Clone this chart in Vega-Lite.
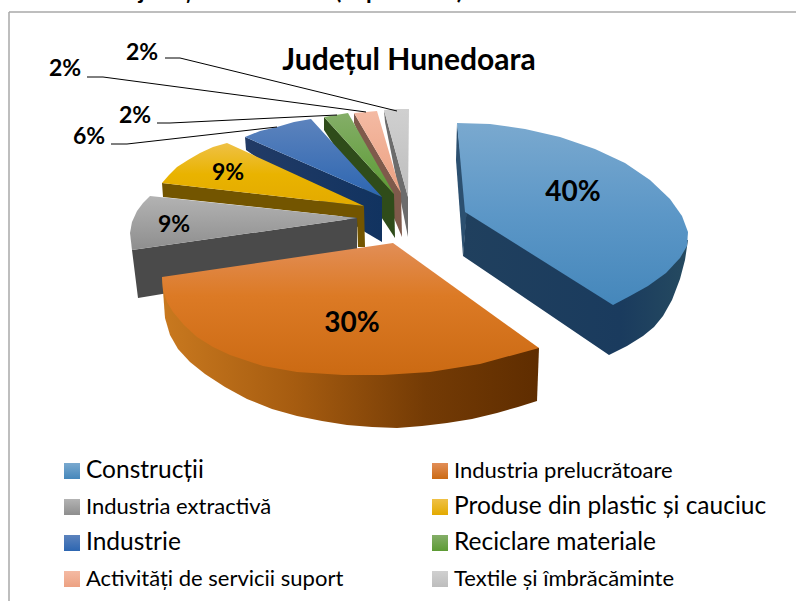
{"$schema":"https://vega.github.io/schema/vega-lite/v6.json","width":796,"height":601,"padding":0,"autosize":"none","background":"white","config":{"view":{"stroke":null}},"datasets":{"faces":[
{"piece":"Textile side","i":0,"x":384,"y":110},{"piece":"Textile side","i":1,"x":385,"y":122},{"piece":"Textile side","i":2,"x":408,"y":237},{"piece":"Textile side","i":3,"x":408,"y":197},
{"piece":"Textile top","i":0,"x":384,"y":110},{"piece":"Textile top","i":1,"x":397,"y":109},{"piece":"Textile top","i":2,"x":409,"y":109},{"piece":"Textile top","i":3,"x":408,"y":197},
{"piece":"Activitati side","i":0,"x":354,"y":113},{"piece":"Activitati side","i":1,"x":354,"y":123},{"piece":"Activitati side","i":2,"x":402,"y":237},{"piece":"Activitati side","i":3,"x":401,"y":193},
{"piece":"Activitati top","i":0,"x":354,"y":113},{"piece":"Activitati top","i":1,"x":366,"y":112},{"piece":"Activitati top","i":2,"x":377,"y":111},{"piece":"Activitati top","i":3,"x":401,"y":193},
{"piece":"Reciclare side","i":0,"x":324,"y":117},{"piece":"Reciclare side","i":1,"x":324,"y":130},{"piece":"Reciclare side","i":2,"x":395,"y":238},{"piece":"Reciclare side","i":3,"x":394,"y":194},
{"piece":"Reciclare top","i":0,"x":324,"y":117},{"piece":"Reciclare top","i":1,"x":336,"y":115},{"piece":"Reciclare top","i":2,"x":348,"y":113},{"piece":"Reciclare top","i":3,"x":394,"y":194},
{"piece":"Industrie side","i":0,"x":245,"y":137},{"piece":"Industrie side","i":1,"x":246,"y":150},{"piece":"Industrie side","i":2,"x":365,"y":232},{"piece":"Industrie side","i":3,"x":382,"y":242},{"piece":"Industrie side","i":4,"x":382,"y":197},
{"piece":"Industrie top","i":0,"x":245,"y":137},{"piece":"Industrie top","i":1,"x":260,"y":131},{"piece":"Industrie top","i":2,"x":277,"y":127},{"piece":"Industrie top","i":3,"x":294,"y":122},{"piece":"Industrie top","i":4,"x":311,"y":119},{"piece":"Industrie top","i":5,"x":382,"y":197},
{"piece":"Produse side","i":0,"x":162,"y":183},{"piece":"Produse side","i":1,"x":163,"y":197},{"piece":"Produse side","i":2,"x":357,"y":218},{"piece":"Produse side","i":3,"x":358,"y":247},{"piece":"Produse side","i":4,"x":365,"y":247},{"piece":"Produse side","i":5,"x":364,"y":206},
{"piece":"Produse top","i":0,"x":162,"y":183},{"piece":"Produse top","i":1,"x":169,"y":175},{"piece":"Produse top","i":2,"x":177,"y":167},{"piece":"Produse top","i":3,"x":188,"y":160},{"piece":"Produse top","i":4,"x":200,"y":153},{"piece":"Produse top","i":5,"x":213,"y":147},{"piece":"Produse top","i":6,"x":227,"y":143},{"piece":"Produse top","i":7,"x":364,"y":206},
{"piece":"Extractiva side","i":0,"x":132,"y":250},{"piece":"Extractiva side","i":1,"x":138,"y":298},{"piece":"Extractiva side","i":2,"x":357,"y":262},{"piece":"Extractiva side","i":3,"x":357,"y":218},
{"piece":"Extractiva top","i":0,"x":132,"y":250},{"piece":"Extractiva top","i":1,"x":130,"y":233},{"piece":"Extractiva top","i":2,"x":132,"y":222},{"piece":"Extractiva top","i":3,"x":137,"y":211},{"piece":"Extractiva top","i":4,"x":143,"y":203},{"piece":"Extractiva top","i":5,"x":150,"y":196},{"piece":"Extractiva top","i":6,"x":357,"y":218},
{"piece":"Prelucratoare side","i":0,"x":162,"y":277},{"piece":"Prelucratoare side","i":1,"x":165,"y":318},{"piece":"Prelucratoare side","i":2,"x":170,"y":335},{"piece":"Prelucratoare side","i":3,"x":178,"y":349},{"piece":"Prelucratoare side","i":4,"x":190,"y":362},{"piece":"Prelucratoare side","i":5,"x":205,"y":374},{"piece":"Prelucratoare side","i":6,"x":225,"y":387},{"piece":"Prelucratoare side","i":7,"x":247,"y":399},{"piece":"Prelucratoare side","i":8,"x":272,"y":409},{"piece":"Prelucratoare side","i":9,"x":297,"y":416},{"piece":"Prelucratoare side","i":10,"x":322,"y":421},{"piece":"Prelucratoare side","i":11,"x":347,"y":425},{"piece":"Prelucratoare side","i":12,"x":372,"y":427},{"piece":"Prelucratoare side","i":13,"x":397,"y":428},{"piece":"Prelucratoare side","i":14,"x":422,"y":426},{"piece":"Prelucratoare side","i":15,"x":447,"y":423},{"piece":"Prelucratoare side","i":16,"x":472,"y":419},{"piece":"Prelucratoare side","i":17,"x":497,"y":413},{"piece":"Prelucratoare side","i":18,"x":518,"y":407},{"piece":"Prelucratoare side","i":19,"x":537,"y":401},{"piece":"Prelucratoare side","i":20,"x":539,"y":348},
{"piece":"Prelucratoare top","i":0,"x":393,"y":243},{"piece":"Prelucratoare top","i":1,"x":162,"y":277},{"piece":"Prelucratoare top","i":2,"x":163,"y":290},{"piece":"Prelucratoare top","i":3,"x":167,"y":302},{"piece":"Prelucratoare top","i":4,"x":173,"y":312},{"piece":"Prelucratoare top","i":5,"x":184,"y":325},{"piece":"Prelucratoare top","i":6,"x":197,"y":337},{"piece":"Prelucratoare top","i":7,"x":213,"y":347},{"piece":"Prelucratoare top","i":8,"x":230,"y":355},{"piece":"Prelucratoare top","i":9,"x":263,"y":366},{"piece":"Prelucratoare top","i":10,"x":297,"y":372},{"piece":"Prelucratoare top","i":11,"x":343,"y":375},{"piece":"Prelucratoare top","i":12,"x":383,"y":375},{"piece":"Prelucratoare top","i":13,"x":430,"y":372},{"piece":"Prelucratoare top","i":14,"x":480,"y":364},{"piece":"Prelucratoare top","i":15,"x":539,"y":348},
{"piece":"Constructii inner","i":0,"x":457,"y":123},{"piece":"Constructii inner","i":1,"x":456,"y":160},{"piece":"Constructii inner","i":2,"x":463,"y":256},{"piece":"Constructii inner","i":3,"x":467,"y":212},
{"piece":"Constructii side","i":0,"x":467,"y":205},{"piece":"Constructii side","i":1,"x":463,"y":256},{"piece":"Constructii side","i":2,"x":609,"y":355},{"piece":"Constructii side","i":3,"x":627,"y":346},{"piece":"Constructii side","i":4,"x":643,"y":336},{"piece":"Constructii side","i":5,"x":654,"y":327},{"piece":"Constructii side","i":6,"x":663,"y":316},{"piece":"Constructii side","i":7,"x":672,"y":300},{"piece":"Constructii side","i":8,"x":680,"y":279},{"piece":"Constructii side","i":9,"x":685,"y":260},{"piece":"Constructii side","i":10,"x":688,"y":240},{"piece":"Constructii side","i":11,"x":680,"y":240},{"piece":"Constructii side","i":12,"x":613,"y":295},
{"piece":"Constructii top","i":0,"x":457,"y":123},{"piece":"Constructii top","i":1,"x":490,"y":124},{"piece":"Constructii top","i":2,"x":525,"y":129},{"piece":"Constructii top","i":3,"x":560,"y":137},{"piece":"Constructii top","i":4,"x":595,"y":149},{"piece":"Constructii top","i":5,"x":625,"y":163},{"piece":"Constructii top","i":6,"x":650,"y":180},{"piece":"Constructii top","i":7,"x":670,"y":199},{"piece":"Constructii top","i":8,"x":682,"y":216},{"piece":"Constructii top","i":9,"x":688,"y":232},{"piece":"Constructii top","i":10,"x":687,"y":246},{"piece":"Constructii top","i":11,"x":680,"y":258},{"piece":"Constructii top","i":12,"x":666,"y":273},{"piece":"Constructii top","i":13,"x":648,"y":286},{"piece":"Constructii top","i":14,"x":630,"y":296},{"piece":"Constructii top","i":15,"x":613,"y":305},{"piece":"Constructii top","i":16,"x":465,"y":212}
],"frame":[{"s":"h","x":9,"y":12},{"s":"h","x":796,"y":12},{"s":"v","x":9,"y":12},{"s":"v","x":9,"y":601}],
"leaders":[{"s":"a","i":0,"x":165,"y":58},{"s":"a","i":1,"x":180,"y":58},{"s":"a","i":2,"x":397,"y":111},{"s":"b","i":0,"x":87,"y":77},{"s":"b","i":1,"x":103,"y":77},{"s":"b","i":2,"x":366,"y":112},{"s":"c","i":0,"x":157,"y":123},{"s":"c","i":1,"x":170,"y":123},{"s":"c","i":2,"x":337,"y":115},{"s":"d","i":0,"x":111,"y":144},{"s":"d","i":1,"x":127,"y":144},{"s":"d","i":2,"x":277,"y":127}],
"slices":[
{"category":"Construcții","share":40,"x":573,"y":193,"lx":72,"ly":471},
{"category":"Industria prelucrătoare","share":30,"x":352,"y":324,"lx":440,"ly":471},
{"category":"Industria extractivă","share":9,"x":174,"y":225,"lx":72,"ly":507},
{"category":"Produse din plastic și cauciuc","share":9,"x":228,"y":173,"lx":440,"ly":507},
{"category":"Industrie","share":6,"x":89,"y":137,"lx":72,"ly":543},
{"category":"Reciclare materiale","share":2,"x":135,"y":116,"lx":440,"ly":543},
{"category":"Activități de servicii suport","share":2,"x":65,"y":69,"lx":72,"ly":579},
{"category":"Textile și îmbrăcăminte","share":2,"x":142,"y":53,"lx":440,"ly":579}
],
"titles":[{"t":"Județul Hunedoara","x":409,"y":61}],
"caption":[{"t":"județul Hunedoara (în procente)","x":463,"y":-1.5}]},
"encoding":{"x":{"field":"x","type":"quantitative","axis":null,"scale":{"domain":[0,796],"nice":false,"zero":false}},"y":{"field":"y","type":"quantitative","axis":null,"scale":{"domain":[601,0],"nice":false,"zero":false}}},
"layer":[
{"data":{"name":"frame"},"mark":{"type":"line","stroke":"#a9a9a9","strokeWidth":1.5},"encoding":{"detail":{"field":"s"}}},
{"data":{"name":"faces"},"transform":[{"filter":"datum.piece==='Textile side'"}],"mark":{"type":"line","stroke":null,"fill":"#6c6c6c"},"encoding":{"order":{"field":"i","type":"quantitative"}}},
{"data":{"name":"faces"},"transform":[{"filter":"datum.piece==='Textile top'"}],"mark":{"type":"line","stroke":null,"fill":{"gradient":"linear","x1":0,"y1":0,"x2":0,"y2":1,"stops":[{"offset":0,"color":"#d0d0d0"},{"offset":1,"color":"#bdbdbd"}]}},"encoding":{"order":{"field":"i","type":"quantitative"}}},
{"data":{"name":"faces"},"transform":[{"filter":"datum.piece==='Activitati side'"}],"mark":{"type":"line","stroke":null,"fill":"#7f5a4b"},"encoding":{"order":{"field":"i","type":"quantitative"}}},
{"data":{"name":"faces"},"transform":[{"filter":"datum.piece==='Activitati top'"}],"mark":{"type":"line","stroke":null,"fill":{"gradient":"linear","x1":0,"y1":0,"x2":0,"y2":1,"stops":[{"offset":0,"color":"#f4baa3"},{"offset":1,"color":"#eca182"}]}},"encoding":{"order":{"field":"i","type":"quantitative"}}},
{"data":{"name":"faces"},"transform":[{"filter":"datum.piece==='Reciclare side'"}],"mark":{"type":"line","stroke":null,"fill":"#2f4c1a"},"encoding":{"order":{"field":"i","type":"quantitative"}}},
{"data":{"name":"faces"},"transform":[{"filter":"datum.piece==='Reciclare top'"}],"mark":{"type":"line","stroke":null,"fill":{"gradient":"linear","x1":0,"y1":0,"x2":0,"y2":1,"stops":[{"offset":0,"color":"#84ae68"},{"offset":1,"color":"#5c9b34"}]}},"encoding":{"order":{"field":"i","type":"quantitative"}}},
{"data":{"name":"faces"},"transform":[{"filter":"datum.piece==='Industrie side'"}],"mark":{"type":"line","stroke":null,"fill":{"gradient":"linear","x1":0,"y1":0,"x2":1,"y2":0,"stops":[{"offset":0,"color":"#223b66"},{"offset":1,"color":"#113360"}]}},"encoding":{"order":{"field":"i","type":"quantitative"}}},
{"data":{"name":"faces"},"transform":[{"filter":"datum.piece==='Industrie top'"}],"mark":{"type":"line","stroke":null,"fill":{"gradient":"linear","x1":0,"y1":0,"x2":0,"y2":1,"stops":[{"offset":0,"color":"#5c83bd"},{"offset":1,"color":"#2d66b1"}]}},"encoding":{"order":{"field":"i","type":"quantitative"}}},
{"data":{"name":"faces"},"transform":[{"filter":"datum.piece==='Produse side'"}],"mark":{"type":"line","stroke":null,"fill":"#735500"},"encoding":{"order":{"field":"i","type":"quantitative"}}},
{"data":{"name":"faces"},"transform":[{"filter":"datum.piece==='Produse top'"}],"mark":{"type":"line","stroke":null,"fill":{"gradient":"linear","x1":0,"y1":0,"x2":0,"y2":1,"stops":[{"offset":0,"color":"#efc146"},{"offset":0.5,"color":"#e9b300"},{"offset":1,"color":"#e3aa00"}]}},"encoding":{"order":{"field":"i","type":"quantitative"}}},
{"data":{"name":"faces"},"transform":[{"filter":"datum.piece==='Extractiva side'"}],"mark":{"type":"line","stroke":null,"fill":"#4a4a4a"},"encoding":{"order":{"field":"i","type":"quantitative"}}},
{"data":{"name":"faces"},"transform":[{"filter":"datum.piece==='Extractiva top'"}],"mark":{"type":"line","stroke":null,"fill":{"gradient":"linear","x1":0,"y1":0,"x2":0,"y2":1,"stops":[{"offset":0,"color":"#b3b3b3"},{"offset":1,"color":"#8e8e8e"}]}},"encoding":{"order":{"field":"i","type":"quantitative"}}},
{"data":{"name":"faces"},"transform":[{"filter":"datum.piece==='Prelucratoare side'"}],"mark":{"type":"line","stroke":null,"fill":{"gradient":"linear","x1":0,"y1":0,"x2":1,"y2":0,"stops":[{"offset":0,"color":"#c9791f"},{"offset":0.35,"color":"#a65c10"},{"offset":0.7,"color":"#743b05"},{"offset":1,"color":"#5f2d00"}]}},"encoding":{"order":{"field":"i","type":"quantitative"}}},
{"data":{"name":"faces"},"transform":[{"filter":"datum.piece==='Prelucratoare top'"}],"mark":{"type":"line","stroke":null,"fill":{"gradient":"linear","x1":0,"y1":0,"x2":0,"y2":1,"stops":[{"offset":0,"color":"#e28e57"},{"offset":0.4,"color":"#dc7a25"},{"offset":1,"color":"#cb6a13"}]}},"encoding":{"order":{"field":"i","type":"quantitative"}}},
{"data":{"name":"faces"},"transform":[{"filter":"datum.piece==='Constructii inner'"}],"mark":{"type":"line","stroke":null,"fill":"#2c5070"},"encoding":{"order":{"field":"i","type":"quantitative"}}},
{"data":{"name":"faces"},"transform":[{"filter":"datum.piece==='Constructii side'"}],"mark":{"type":"line","stroke":null,"fill":{"gradient":"linear","x1":0,"y1":0,"x2":1,"y2":0,"stops":[{"offset":0,"color":"#20405e"},{"offset":0.7,"color":"#1a3b5e"},{"offset":1,"color":"#254a60"}]}},"encoding":{"order":{"field":"i","type":"quantitative"}}},
{"data":{"name":"faces"},"transform":[{"filter":"datum.piece==='Constructii top'"}],"mark":{"type":"line","stroke":null,"fill":{"gradient":"linear","x1":0,"y1":0,"x2":0,"y2":1,"stops":[{"offset":0,"color":"#7aa9cf"},{"offset":0.5,"color":"#5c97c7"},{"offset":1,"color":"#4587bb"}]}},"encoding":{"order":{"field":"i","type":"quantitative"}}},
{"data":{"name":"leaders"},"mark":{"type":"line","stroke":"#000000","strokeWidth":1},"encoding":{"detail":{"field":"s"},"order":{"field":"i","type":"quantitative"}}},
{"data":{"name":"slices"},"transform":[{"calculate":"datum.share+'%'","as":"label"}],"mark":{"type":"text","font":"Lato","fontWeight":"bold","color":"#000000","align":"center","baseline":"middle"},"encoding":{"text":{"field":"label"},"size":{"condition":{"test":"datum.share>=30","value":28},"value":23}}},
{"data":{"name":"slices"},"transform":[{"filter":"datum.category==='Construcții'"}],"mark":{"type":"point","shape":"square","filled":true,"size":256,"opacity":1,"fill":{"gradient":"linear","x1":0,"y1":0,"x2":0,"y2":1,"stops":[{"offset":0,"color":"#7aa9cf"},{"offset":1,"color":"#4587bb"}]}},"encoding":{"x":{"field":"lx","type":"quantitative"},"y":{"field":"ly","type":"quantitative"}}},
{"data":{"name":"slices"},"transform":[{"filter":"datum.category==='Industria prelucrătoare'"}],"mark":{"type":"point","shape":"square","filled":true,"size":256,"opacity":1,"fill":{"gradient":"linear","x1":0,"y1":0,"x2":0,"y2":1,"stops":[{"offset":0,"color":"#e28e57"},{"offset":1,"color":"#cb6a13"}]}},"encoding":{"x":{"field":"lx","type":"quantitative"},"y":{"field":"ly","type":"quantitative"}}},
{"data":{"name":"slices"},"transform":[{"filter":"datum.category==='Industria extractivă'"}],"mark":{"type":"point","shape":"square","filled":true,"size":256,"opacity":1,"fill":{"gradient":"linear","x1":0,"y1":0,"x2":0,"y2":1,"stops":[{"offset":0,"color":"#b3b3b3"},{"offset":1,"color":"#8e8e8e"}]}},"encoding":{"x":{"field":"lx","type":"quantitative"},"y":{"field":"ly","type":"quantitative"}}},
{"data":{"name":"slices"},"transform":[{"filter":"datum.category==='Produse din plastic și cauciuc'"}],"mark":{"type":"point","shape":"square","filled":true,"size":256,"opacity":1,"fill":{"gradient":"linear","x1":0,"y1":0,"x2":0,"y2":1,"stops":[{"offset":0,"color":"#efc146"},{"offset":1,"color":"#e3aa00"}]}},"encoding":{"x":{"field":"lx","type":"quantitative"},"y":{"field":"ly","type":"quantitative"}}},
{"data":{"name":"slices"},"transform":[{"filter":"datum.category==='Industrie'"}],"mark":{"type":"point","shape":"square","filled":true,"size":256,"opacity":1,"fill":{"gradient":"linear","x1":0,"y1":0,"x2":0,"y2":1,"stops":[{"offset":0,"color":"#5c83bd"},{"offset":1,"color":"#2d66b1"}]}},"encoding":{"x":{"field":"lx","type":"quantitative"},"y":{"field":"ly","type":"quantitative"}}},
{"data":{"name":"slices"},"transform":[{"filter":"datum.category==='Reciclare materiale'"}],"mark":{"type":"point","shape":"square","filled":true,"size":256,"opacity":1,"fill":{"gradient":"linear","x1":0,"y1":0,"x2":0,"y2":1,"stops":[{"offset":0,"color":"#84ae68"},{"offset":1,"color":"#5c9b34"}]}},"encoding":{"x":{"field":"lx","type":"quantitative"},"y":{"field":"ly","type":"quantitative"}}},
{"data":{"name":"slices"},"transform":[{"filter":"datum.category==='Activități de servicii suport'"}],"mark":{"type":"point","shape":"square","filled":true,"size":256,"opacity":1,"fill":{"gradient":"linear","x1":0,"y1":0,"x2":0,"y2":1,"stops":[{"offset":0,"color":"#f4baa3"},{"offset":1,"color":"#eca182"}]}},"encoding":{"x":{"field":"lx","type":"quantitative"},"y":{"field":"ly","type":"quantitative"}}},
{"data":{"name":"slices"},"transform":[{"filter":"datum.category==='Textile și îmbrăcăminte'"}],"mark":{"type":"point","shape":"square","filled":true,"size":256,"opacity":1,"fill":{"gradient":"linear","x1":0,"y1":0,"x2":0,"y2":1,"stops":[{"offset":0,"color":"#d0d0d0"},{"offset":1,"color":"#bdbdbd"}]}},"encoding":{"x":{"field":"lx","type":"quantitative"},"y":{"field":"ly","type":"quantitative"}}},
{"data":{"name":"slices"},"mark":{"type":"text","font":"Lato","align":"left","baseline":"middle","dx":14,"color":"#000000"},"encoding":{"x":{"field":"lx","type":"quantitative"},"y":{"field":"ly","type":"quantitative"},"text":{"field":"category"},"size":{"condition":{"test":"indexof(['Construcții','Produse din plastic și cauciuc','Industrie','Reciclare materiale'],datum.category)>=0","value":24.5},"value":22}}},
{"data":{"name":"titles"},"mark":{"type":"text","font":"Lato","fontWeight":"bold","fontSize":30,"align":"center","baseline":"middle","color":"#000000"},"encoding":{"text":{"field":"t"}}},
{"data":{"name":"caption"},"mark":{"type":"text","font":"Lato","fontWeight":"bold","fontSize":23,"align":"right","baseline":"alphabetic","color":"#000000"},"encoding":{"text":{"field":"t"}}}
]}
